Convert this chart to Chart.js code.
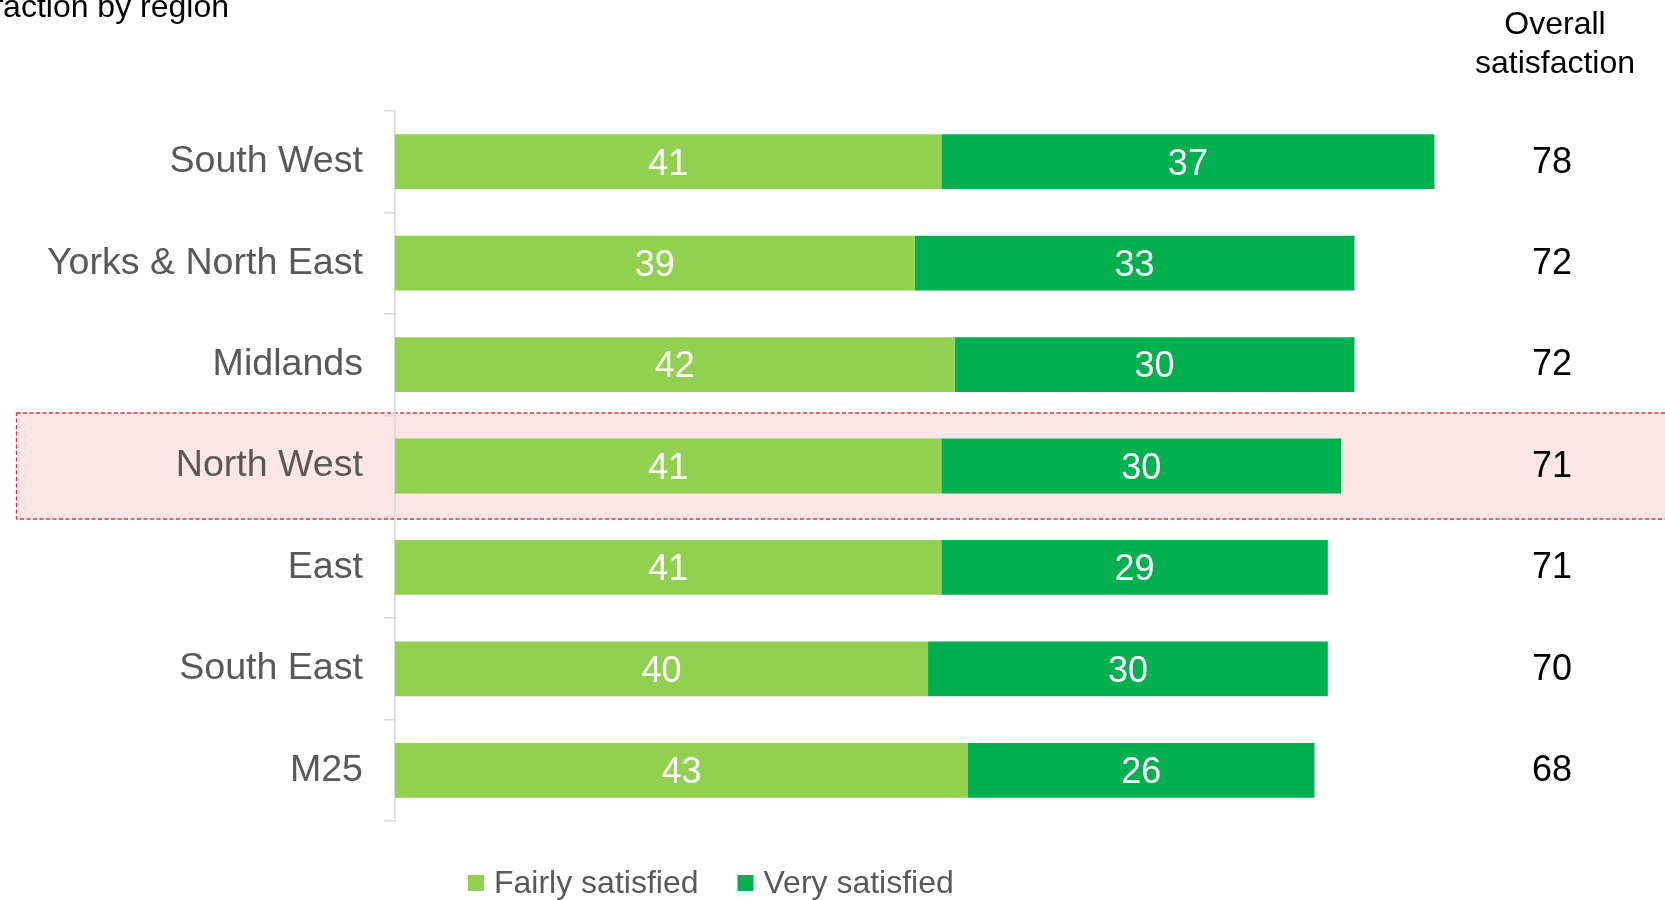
<!DOCTYPE html>
<html>
<head>
<meta charset="utf-8">
<script src="https://cdn.jsdelivr.net/npm/chart.js@4/dist/chart.umd.min.js"></script>
<style>
  html, body { margin: 0; padding: 0; background: #ffffff; }
  #wrap { position: relative; width: 1665px; height: 900px; }
  canvas { display: block; }
</style>
</head>
<body>
<div id="wrap"><canvas id="c" width="1665" height="900"></canvas></div>
<script>
// ---- Data ----
const regions = ["South West", "Yorks & North East", "Midlands", "North West", "East", "South East", "M25"];
const fairlySatisfied = [41, 39, 42, 41, 41, 40, 43];
const verySatisfied = [37, 33, 30, 30, 29, 30, 26];
const overallSatisfaction = [78, 72, 72, 71, 71, 70, 68];
const seriesNames = ["Fairly satisfied", "Very satisfied"];
const highlightedRegion = "North West";
const titleText = "Overall satisfaction by region";
const overallHeader = ["Overall", "satisfaction"];

const FONT = '"Liberation Sans", Arial, Helvetica, sans-serif';
const COL_FAIRLY = '#92D050';
const COL_VERY = '#00B050';

const highlightPlugin = {
  id: 'highlight',
  beforeDraw(chart) {
    const ys = chart.scales.y;
    const idx = regions.indexOf(highlightedRegion);
    if (idx < 0) return;
    const cy = ys.getPixelForValue(idx);
    const half = 53;
    const ctx = chart.ctx;
    ctx.save();
    ctx.fillStyle = '#FDE5E8';
    ctx.fillRect(16, cy - half, 1670, half * 2);
    ctx.strokeStyle = '#E8303C';
    ctx.lineWidth = 1.3;
    ctx.setLineDash([4, 2.5]);
    ctx.strokeRect(16.5, cy - half, 1670, half * 2);
    ctx.restore();
  }
};

const labelsPlugin = {
  id: 'segLabels',
  afterDatasetsDraw(chart) {
    const ctx = chart.ctx;
    ctx.save();
    ctx.fillStyle = '#ffffff';
    ctx.font = '36px ' + FONT;
    ctx.textAlign = 'center';
    ctx.textBaseline = 'middle';
    chart.data.datasets.forEach((ds, di) => {
      const meta = chart.getDatasetMeta(di);
      meta.data.forEach((bar, i) => {
        const x = (bar.x + bar.base) / 2;
        ctx.fillText(String(ds.data[i]), x, bar.y + 3);
      });
    });
    ctx.restore();
  },
  afterDraw(chart) {
    const ctx = chart.ctx;
    const ys = chart.scales.y;
    ctx.save();
    // overall column
    ctx.fillStyle = '#000000';
    ctx.textAlign = 'center';
    ctx.textBaseline = 'alphabetic';
    ctx.font = '32px ' + FONT;
    ctx.fillText(overallHeader[0], 1555, 34);
    ctx.fillText(overallHeader[1], 1555, 73);
    ctx.font = '36px ' + FONT;
    ctx.textBaseline = 'middle';
    overallSatisfaction.forEach((v, i) => {
      ctx.fillText(String(v), 1552, ys.getPixelForValue(i) + 1);
    });
    // partially visible title
    ctx.font = '32px ' + FONT;
    ctx.textAlign = 'right';
    ctx.textBaseline = 'alphabetic';
    ctx.fillText(titleText, 229, 17);
    // legend
    ctx.font = '32px ' + FONT;
    ctx.textAlign = 'left';
    let x = 468;
    const colors = [COL_FAIRLY, COL_VERY];
    seriesNames.forEach((name, i) => {
      ctx.fillStyle = colors[i];
      ctx.fillRect(x, 875, 16, 16);
      ctx.fillStyle = '#595959';
      ctx.fillText(name, x + 26, 893);
      x += 26 + ctx.measureText(name).width + 39;
    });
    ctx.restore();
  }
};

new Chart(document.getElementById('c'), {
  type: 'bar',
  data: {
    labels: regions,
    datasets: [
      { label: seriesNames[0], data: fairlySatisfied, backgroundColor: COL_FAIRLY, borderWidth: 0 },
      { label: seriesNames[1], data: verySatisfied, backgroundColor: COL_VERY, borderWidth: 0 }
    ]
  },
  options: {
    indexAxis: 'y',
    responsive: false,
    animation: false,
    devicePixelRatio: 1,
    barPercentage: 0.54,
    categoryPercentage: 1,
    layout: { padding: { left: 0, right: 76, top: 111, bottom: 79 } },
    plugins: {
      legend: { display: false },
      tooltip: { enabled: false },
      title: { display: false }
    },
    scales: {
      x: {
        stacked: true,
        display: false,
        min: 0,
        max: 89.6
      },
      y: {
        stacked: true,
        afterFit(scale) { scale.width = 395; },
        grid: {
          offset: true,
          drawOnChartArea: false,
          drawTicks: true,
          tickLength: 11,
          color: '#D9D9D9',
          lineWidth: 1.5
        },
        border: { display: true, color: '#D9D9D9', width: 1.5 },
        ticks: {
          padding: 21,
          color: '#595959',
          font: { family: FONT, size: 37.6 }
        }
      }
    }
  },
  plugins: [highlightPlugin, labelsPlugin]
});
</script>
</body>
</html>
